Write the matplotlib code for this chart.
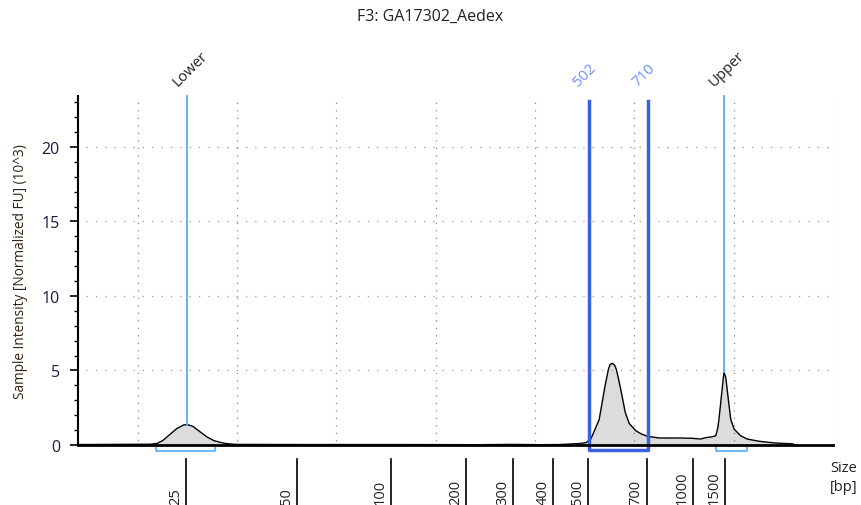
import matplotlib.pyplot as plt
from matplotlib.ticker import MultipleLocator

plt.rcParams['font.family'] = ['Open Sans', 'DejaVu Sans']

# electropherogram trace (migration time in s, intensity in 10^3 FU)
times = [17.00, 20.62, 20.97, 21.27, 21.62, 21.97, 22.33, 22.53, 22.78, 23.13,
         23.48, 23.83, 24.14, 24.44, 24.89, 28.16, 33.18, 37.20, 38.71, 40.22,
         41.22, 41.72, 42.23, 42.56, 42.81, 43.07, 43.23, 43.40, 43.53, 43.70,
         43.78, 43.90, 44.01, 44.10, 44.21, 44.32, 44.44, 44.54, 44.74, 45.08,
         45.34, 45.66, 46.25, 47.25, 47.90, 48.34, 48.59, 48.91, 49.10, 49.21,
         49.26, 49.40, 49.51, 49.60, 49.71, 49.85, 50.02, 50.35, 50.68, 51.27,
         52.11, 52.94, 53.13]
signal = [0.03, 0.05, 0.10, 0.30, 0.70, 1.10, 1.35, 1.36, 1.25, 0.90,
          0.55, 0.30, 0.18, 0.10, 0.04, 0.03, 0.03, 0.02, 0.04, 0.02,
          0.03, 0.06, 0.10, 0.15, 0.40, 1.20, 1.70, 3.00, 4.00, 5.10,
          5.40, 5.48, 5.35, 5.05, 4.40, 3.70, 2.90, 2.20, 1.45, 0.95,
          0.75, 0.58, 0.47, 0.47, 0.45, 0.40, 0.49, 0.55, 0.62, 1.20,
          1.74, 3.50, 4.88, 4.54, 3.30, 1.74, 1.07, 0.62, 0.40, 0.25,
          0.13, 0.08, 0.00]

# ladder sizes and their migration times
size_labels = ['25', '50', '100', '200', '300', '400', '500', '700', '1000', '1500']
size_times = [22.46, 28.00, 32.74, 36.53, 38.89, 40.93, 42.68, 45.63, 47.95, 49.56]

# markers
marker_names = ['Lower', 'Upper']
marker_times = [22.50, 49.52]
marker_heights = [1.36, 4.88]
marker_ranges = [(20.92, 23.88), (49.11, 50.67)]
region_names = ['502', '710']
region_times = [42.73, 45.69]

light_blue = '#55aaff'
royal_blue = '#3a62e0'

fig = plt.figure(figsize=(8.61, 5.06), dpi=100)
ax = fig.add_axes([0.0906, 0.1186, 0.8769, 0.6897])

ax.fill_between(times, signal, 0, color='#dcdcdc', lw=0)
ax.plot(times, signal, color='black', lw=1)

ax.set_xlim(17, 55)
ax.set_ylim(0, 23.42)

# grid
for t in range(20, 56, 5):
    ax.plot([t, t], [0.3, 23.4], color='#888888', lw=0.9, ls=(0, (1, 5)))
for v in [5, 10, 15, 20]:
    ax.axhline(v, xmin=0.01, color='#999999', lw=0.9, ls=(0, (1, 6.5)))

# spines / ticks
for s in ['top', 'right']:
    ax.spines[s].set_visible(False)
ax.spines['left'].set_linewidth(1.5)
ax.spines['bottom'].set_linewidth(2)
ax.set_xticks([])
ax.yaxis.set_major_locator(MultipleLocator(5))
ax.yaxis.set_minor_locator(MultipleLocator(1))
ax.tick_params(axis='y', which='major', length=6, width=1.2, labelsize=11.5,
               labelcolor='#1a1a45', pad=7)
ax.tick_params(axis='y', which='minor', length=3, width=1)
ax.set_ylabel('Sample Intensity [Normalized FU] (10^3)', fontsize=9.8,
              color='#332211')
ax.yaxis.set_label_coords(-0.066, 0.5)

# size ticks below the axis
xt = ax.get_xaxis_transform()
for lab, t in zip(size_labels, size_times):
    ax.plot([t, t], [-0.04, -0.18], color='black', lw=1.2, transform=xt, clip_on=False)
    ax.annotate(lab, xy=(t, -0.172), xycoords=xt, xytext=(-3, 1),
                textcoords='offset pixels', rotation=90, ha='right', va='bottom',
                fontsize=10.5, color='#222222')

# lower / upper markers
for name, t, h, (a, b) in zip(marker_names, marker_times, marker_heights, marker_ranges):
    ax.plot([t, t], [h, 23.42], color=light_blue, lw=1.3, clip_on=False)
    ax.plot([a, a, b, b], [0, -0.4, -0.4, 0], color=light_blue, lw=1.2, clip_on=False)
    ax.annotate(name, xy=(t, 1.0), xycoords=xt, xytext=(-10, 10),
                textcoords='offset pixels', rotation=45, rotation_mode='anchor',
                ha='left', va='baseline', fontsize=10.8, color='#222222')

# region 502 - 710
ax.plot([region_times[0], region_times[0], region_times[1], region_times[1]],
        [23.09, -0.34, -0.34, 23.09], color=royal_blue, lw=2.5, clip_on=False)
for name, t in zip(region_names, region_times):
    ax.annotate(name, xy=(t, 1.0), xycoords=xt, xytext=(-11, 10),
                textcoords='offset pixels', rotation=45, rotation_mode='anchor',
                ha='left', va='baseline', fontsize=10.8, color='#6d8ff0')

fig.text(0.5, 0.966, 'F3: GA17302_Aedex', ha='center', va='center', fontsize=11.5,
         color='#222222')
fig.text(0.964, 0.088, 'Size\n[bp]', ha='left', va='top', fontsize=10.5,
         color='#222222', linespacing=1.3)

fig.savefig('out.png', dpi=100)
